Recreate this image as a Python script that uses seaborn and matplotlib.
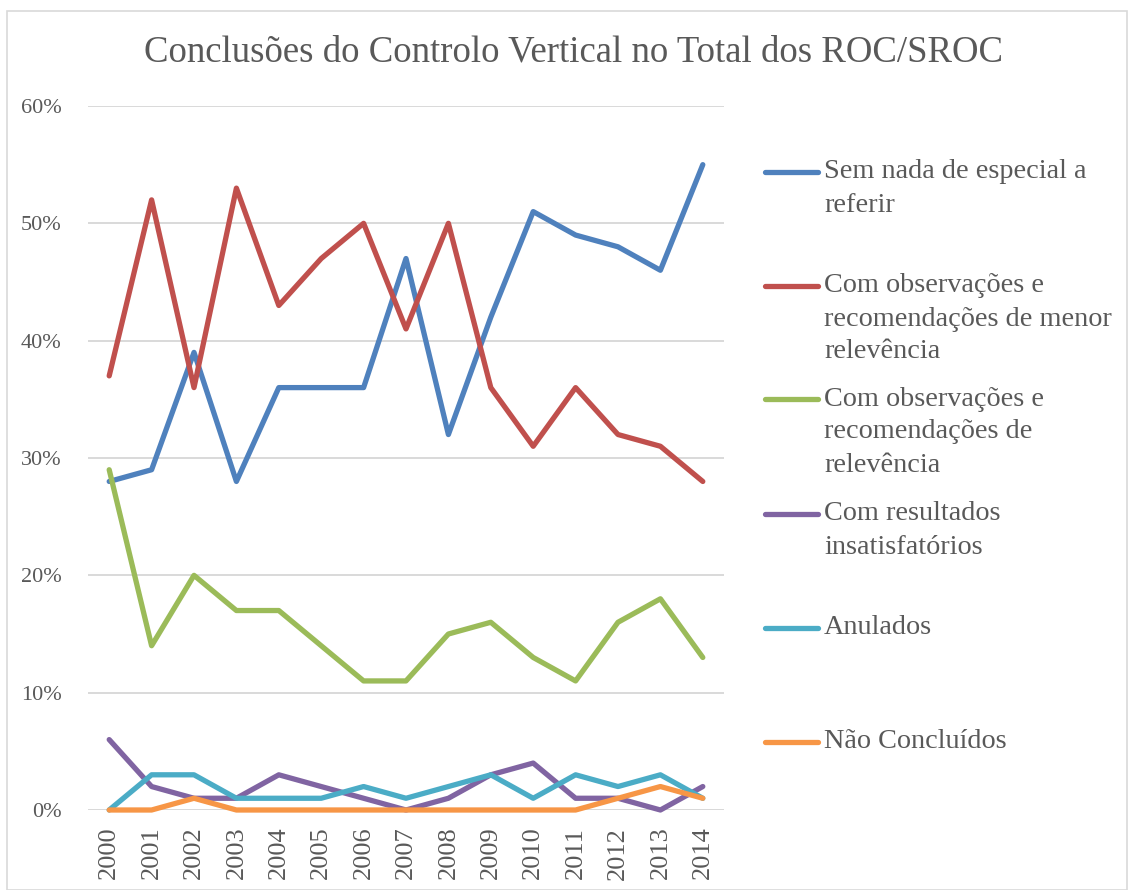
import matplotlib
matplotlib.use("Agg")
import matplotlib.pyplot as plt
from matplotlib.lines import Line2D
from matplotlib.patches import Rectangle
from matplotlib.ticker import FuncFormatter
import seaborn as sns
import pandas as pd

years = [str(y) for y in range(2000, 2015)]
sem_nada = [28, 29, 39, 28, 36, 36, 36, 47, 32, 42, 51, 49, 48, 46, 55]
menor_relev = [37, 52, 36, 53, 43, 47, 50, 41, 50, 36, 31, 36, 32, 31, 28]
relevancia = [29, 14, 20, 17, 17, 14, 11, 11, 15, 16, 13, 11, 16, 18, 13]
insatisf = [6, 2, 1, 1, 3, 2, 1, 0, 1, 3, 4, 1, 1, 0, 2]
anulados = [0, 3, 3, 1, 1, 1, 2, 1, 2, 3, 1, 3, 2, 3, 1]
nao_concl = [0, 0, 1, 0, 0, 0, 0, 0, 0, 0, 0, 0, 1, 2, 1]

series_names = [
    "Sem nada de especial a referir",
    "Com observações e recomendações de menor relevência",
    "Com observações e recomendações de relevência",
    "Com resultados insatisfatórios",
    "Anulados",
    "Não Concluídos",
]
legend_lines = [
    ["Sem nada de especial a", "referir"],
    ["Com observações e", "recomendações de menor", "relevência"],
    ["Com observações e", "recomendações de", "relevência"],
    ["Com resultados", "insatisfatórios"],
    ["Anulados"],
    ["Não Concluídos"],
]
colors = ["#4F81BD", "#C0504D", "#9BBB59", "#8064A2", "#4BACC6", "#F79646"]

all_vals = [sem_nada, menor_relev, relevancia, insatisf, anulados, nao_concl]
rows = []
for name, vals in zip(series_names, all_vals):
    for i, v in enumerate(vals):
        rows.append({"idx": i, "year": years[i], "serie": name, "valor": v / 100})
df = pd.DataFrame(rows)

sns.set_theme(style="white")
plt.rcParams["font.family"] = ["Liberation Serif", "DejaVu Serif"]
text_color = "#595959"

fig = plt.figure(figsize=(11.31, 8.90), dpi=100)
W, H = 1131, 890
ax = fig.add_axes([88 / W, 1 - 810 / H, (724 - 88) / W, (810 - 106) / H])

sns.lineplot(data=df, x="idx", y="valor", hue="serie", hue_order=series_names,
             palette=colors, linewidth=3.8, ax=ax, legend=False,
             solid_capstyle="round", solid_joinstyle="round")
for ln in ax.get_lines():
    ln.set_clip_on(False)

ax.set_xlim(-0.5, 14.5)
ax.set_ylim(0, 0.6)
ax.set_yticks([0, 0.1, 0.2, 0.3, 0.4, 0.5, 0.6])
ax.yaxis.set_major_formatter(FuncFormatter(lambda v, p: f"{v*100:.0f}%"))
ax.set_xticks(range(len(years)))
ax.set_xticklabels(years, rotation=90, fontsize=19, color=text_color)
ax.tick_params(axis="y", labelsize=16, labelcolor=text_color, length=0, pad=19)
ax.tick_params(axis="x", length=0, pad=12)
ax.set_xlabel("")
ax.set_ylabel("")
ax.grid(axis="y", color="#D9D9D9", linewidth=1.4)
ax.set_axisbelow(True)
for s in ax.spines.values():
    s.set_visible(False)
ax.axhline(0, color="#D9D9D9", linewidth=1.4, zorder=0)

fig.text(574 / W, 1 - 52 / H, "Conclusões do Controlo Vertical no Total dos ROC/SROC",
         ha="center", va="center", fontsize=26.5, color=text_color)

# legend
first_y = [172, 286, 399, 514, 628, 742]
line_h = 33
for col, ys, lines in zip(colors, first_y, legend_lines):
    fig.add_artist(Line2D([765 / W, 818 / W], [1 - ys / H, 1 - ys / H],
                          color=col, linewidth=3.8, solid_capstyle="round",
                          transform=fig.transFigure))
    for k, t in enumerate(lines):
        fig.text(824 / W, 1 - (ys + k * line_h) / H, t, ha="left",
                 va="center", fontsize=20.3, color=text_color)

fig.add_artist(Rectangle((7 / W, 0), (1127 - 7) / W, 1 - 11 / H,
                         transform=fig.transFigure, fill=False,
                         edgecolor="#D9D9D9", linewidth=1.2))

fig.savefig("out.png", dpi=100)
